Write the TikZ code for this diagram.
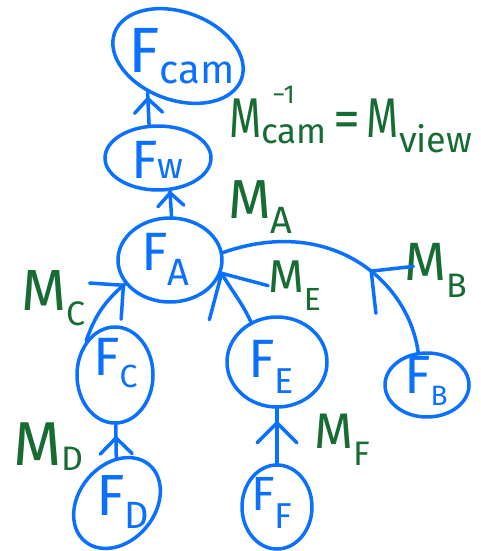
\documentclass[tikz,border=0pt]{standalone}
\usepackage{graphicx}
\usepackage{fontspec}
\setmainfont{Fira Sans}
\usetikzlibrary{shapes.geometric, decorations.markings}
\definecolor{inkblue}{RGB}{10,112,255}
\definecolor{inkgreen}{RGB}{22,108,50}
% font size helper and "letter + lowered subscript" helper
\newcommand{\inksize}[1]{\fontsize{#1}{#1}\selectfont}
\newcommand{\inklabel}[5]{{\inksize{#2}#1}\raisebox{-#5pt}{\inksize{#4}#3}}
\newcommand{\narrowM}[1]{\scalebox{0.74}[1]{\inksize{#1}M}}
\begin{document}
\begin{tikzpicture}[x=1pt, y=-1pt,
  frame/.style={ellipse, draw=inkblue, line width=3.5pt, inner sep=0pt},
  ftext/.style={text=inkblue, anchor=base west, inner sep=0pt},
  mtext/.style={text=inkgreen, anchor=base west, inner sep=0pt},
  link/.style={color=inkblue, line width=3.5pt, line cap=round},
  % open chevron head placed along the connector: {position}{arm length}
  tipat/.style 2 args={postaction={decorate}, decoration={markings,
      mark=at position #1 with {\draw[inkblue, line width=3.5pt, line cap=round, line join=round]
        (-#2, #2) -- (0pt,0pt) -- (-#2, -#2);}}}
]
\useasboundingbox (0,0) rectangle (481,551);

% frames
\node[frame, minimum width=135pt, minimum height=88pt, rotate=-20] (cam) at (178,56) {};
\node[frame, minimum width=106pt, minimum height=64pt] (w) at (158,158) {};
\node[frame, minimum width=104pt, minimum height=84pt] (a) at (170,260) {};
\node[frame, minimum width=76pt, minimum height=96pt] (c) at (115,375) {};
\node[frame, minimum width=100pt, minimum height=90pt] (e) at (277,362) {};
\node[frame, minimum width=84pt, minimum height=64pt] (b) at (427,385) {};
\node[frame, minimum width=100pt, minimum height=76pt, rotate=50] (d) at (117,503) {};
\node[frame, minimum width=70pt, minimum height=84pt] (f) at (277,507) {};

% frame names
\node[ftext] (camT) at (128,72) {\inklabel{F}{64}{cam}{40}{11}};
\node[ftext] (wT) at (131,178) {\inklabel{F}{54}{w}{36}{0}};
\node[ftext] (aT) at (141,270) {\inklabel{F}{54}{A}{38}{15}};
\node[ftext] (cT) at (93,375) {\inklabel{F}{54}{C}{32}{12}};
\node[ftext] (eT) at (248,377) {\inklabel{F}{54}{E}{36}{16}};
\node[ftext] (bT) at (404,393) {\inklabel{F}{54}{B}{28}{12}};
\node[ftext] (dT) at (96,515) {\inklabel{F}{58}{D}{38}{13}};
\node[ftext] (fT) at (251,510) {\inklabel{F}{48}{F}{36}{18}};

% transforms
\node[mtext] (view) at (229,137) {\narrowM{56}\rlap{\hspace{11pt}\raisebox{34pt}{\inksize{26}−1}}\raisebox{-6pt}{\inksize{35}cam}\hspace{7pt}{\inksize{54}=}\hspace{6pt}\narrowM{56}\raisebox{-15pt}{\inksize{36}view}};
\node[mtext] (mA) at (228,218) {\inklabel{M}{55}{A}{38}{15}};
\node[mtext] (mC) at (21,310) {\inklabel{M}{58}{C}{34}{15}};
\node[mtext] (mE) at (268,292) {\inklabel{M}{46}{E}{32}{18}};
\node[mtext] (mB) at (404,280) {\inklabel{M}{54}{B}{34}{17}};
\node[mtext] (mD) at (13,465) {\inklabel{M}{62}{D}{34}{5}};
\node[mtext] (mF) at (314,448) {\inklabel{M}{50}{F}{34}{17}};

% connectors (child frame -> parent frame)
\draw[link, tipat={0.8}{14pt}] (w.105) -- (cam.250);
\draw[link, tipat={0.92}{13pt}] (a.88) -- (w.-70);
\draw[link, tipat={0.97}{24pt}] (c.130) to[bend left=15] (a.208);
\draw[link, tipat={0.99}{34pt}] (e.123) to[out=115, in=-60] (a.-14);
\draw[link, tipat={0.38}{30pt}] (b.105) .. controls (408,280) and (330,215) .. (a.8);
\draw[link, tipat={0.6}{16pt}] (d) -- (c);
\draw[link, tipat={0.74}{20pt}] (f) -- (e);
\end{tikzpicture}
\end{document}
